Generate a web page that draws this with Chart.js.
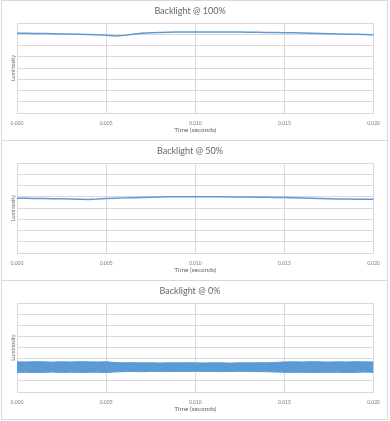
<!DOCTYPE html>
<html><head><meta charset="utf-8">
<script src="https://cdn.jsdelivr.net/npm/chart.js@4"></script>
<style>
html,body{margin:0;padding:0;background:#fff;width:390px;height:421px;overflow:hidden;}
.panel{position:absolute;left:1px;width:387px;box-sizing:border-box;border:1px solid #D9D9D9;background:#fff;}
canvas{position:absolute;left:0;top:0;}
</style></head>
<body>
<div class="panel" style="top:0px;height:141px;"><canvas id="c1" width="385" height="139"></canvas></div>
<div class="panel" style="top:140px;height:141px;"><canvas id="c2" width="385" height="139"></canvas></div>
<div class="panel" style="top:280px;height:140px;"><canvas id="c3" width="385" height="138"></canvas></div>
<script>
const times = [0,0.0005,0.001,0.0015,0.002,0.0025,0.003,0.0035,0.004,0.0045,0.005,0.0055,0.006,0.0065,0.007,0.0075,0.008,0.0085,0.009,0.0095,0.010,0.0105,0.011,0.0115,0.012,0.0125,0.013,0.0135,0.014,0.0145,0.015,0.0155,0.016,0.0165,0.017,0.0175,0.018,0.0185,0.019,0.0195,0.020];
const lum100 = [7.08,7.08,7.07,7.06,7.05,7.03,7.02,7.00,6.98,6.95,6.91,6.85,6.90,7.00,7.08,7.13,7.16,7.18,7.19,7.20,7.21,7.21,7.21,7.20,7.20,7.19,7.18,7.17,7.16,7.15,7.14,7.13,7.11,7.09,7.07,7.05,7.03,7.01,6.99,6.97,6.95];
const lum50 = [4.87,4.86,4.85,4.84,4.83,4.82,4.80,4.78,4.76,4.79,4.84,4.87,4.90,4.92,4.94,4.96,4.98,4.99,5.00,5.01,5.00,5.00,4.99,4.99,4.98,4.98,4.97,4.96,4.95,4.94,4.93,4.91,4.89,4.87,4.85,4.83,4.80,4.79,4.78,4.77,4.77];
const lum0Upper = [2.72,2.70,2.73,2.71,2.69,2.72,2.70,2.73,2.71,2.70,2.72,2.66,2.63,2.64,2.62,2.63,2.61,2.63,2.62,2.64,2.62,2.61,2.63,2.62,2.60,2.63,2.62,2.64,2.63,2.66,2.70,2.72,2.70,2.73,2.71,2.69,2.72,2.70,2.73,2.71,2.70];
const lum0Lower = [1.76,1.78,1.75,1.77,1.79,1.76,1.78,1.75,1.77,1.78,1.76,1.80,1.83,1.84,1.82,1.85,1.84,1.83,1.85,1.84,1.86,1.84,1.85,1.83,1.84,1.86,1.84,1.83,1.82,1.80,1.77,1.76,1.78,1.75,1.77,1.76,1.78,1.75,1.77,1.79,1.76];
const xTickLabels = ['0.000','0.005','0.010','0.015','0.020'];
const titles = ['Backlight @ 100%','Backlight @ 50%','Backlight @ 0%'];
const xTitle = 'Time (seconds)';
const yTitle = 'Luminosity';

const BLUE = '#5B9BD5';
const GRID = '#D9D9D9';
const TXT = '#666666';
const TICK = '#7a7a7a';
const FONT = 'Lato';

function pts(arr){ return arr.map((v,i)=>({x:times[i], y:v})); }

function makeChart(id, title, datasets){
  return new Chart(document.getElementById(id), {
    type:'line',
    data:{datasets},
    options:{
      responsive:false, animation:false, devicePixelRatio:1,
      layout:{padding:{left:0,right:9,top:0,bottom:0}},
      elements:{point:{radius:0}, line:{tension:0}},
      plugins:{
        legend:{display:false}, tooltip:{enabled:false},
        title:{display:true, text:title, color:TXT, font:{family:FONT,size:9,weight:'normal',lineHeight:1.2}, padding:{top:4.5,bottom:6.7}}
      },
      scales:{
        x:{type:'linear', min:0, max:0.02,
           afterFit(s){ s.height = 27; },
           afterBuildTicks(s){ s.ticks = xTickLabels.map(l=>({value:parseFloat(l)})); },
           grid:{color:GRID, drawTicks:false, lineWidth:1},
           border:{color:GRID},
           ticks:{color:TICK, padding:7, maxRotation:0, autoSkip:false, font:{family:FONT,size:5},
                  callback:(v)=>xTickLabels.find(l=>Math.abs(parseFloat(l)-v)<1e-9) ?? ''},
           title:{display:true, text:xTitle, color:TXT, font:{family:FONT,size:6.5,lineHeight:1.2}, padding:{top:0,bottom:6.3}}
        },
        y:{min:0, max:8,
           afterFit(s){ s.width = 15; },
           grid:{color:GRID, drawTicks:false},
           border:{display:false},
           ticks:{display:false, stepSize:1},
           title:{display:true, text:yTitle, color:TXT, font:{family:FONT,size:5.5,lineHeight:1.2}, padding:{top:7.5,bottom:0}}
        }
      }
    }
  });
}

makeChart('c1', titles[0], [{data:pts(lum100), borderColor:BLUE, borderWidth:1.5, fill:false}]);
makeChart('c2', titles[1], [{data:pts(lum50), borderColor:BLUE, borderWidth:1.5, fill:false}]);
makeChart('c3', titles[2], [
  {data:pts(lum0Upper), borderColor:BLUE, borderWidth:1, fill:false},
  {data:pts(lum0Lower), borderColor:BLUE, borderWidth:1, backgroundColor:BLUE, fill:'-1'}
]);
</script>
</body></html>
